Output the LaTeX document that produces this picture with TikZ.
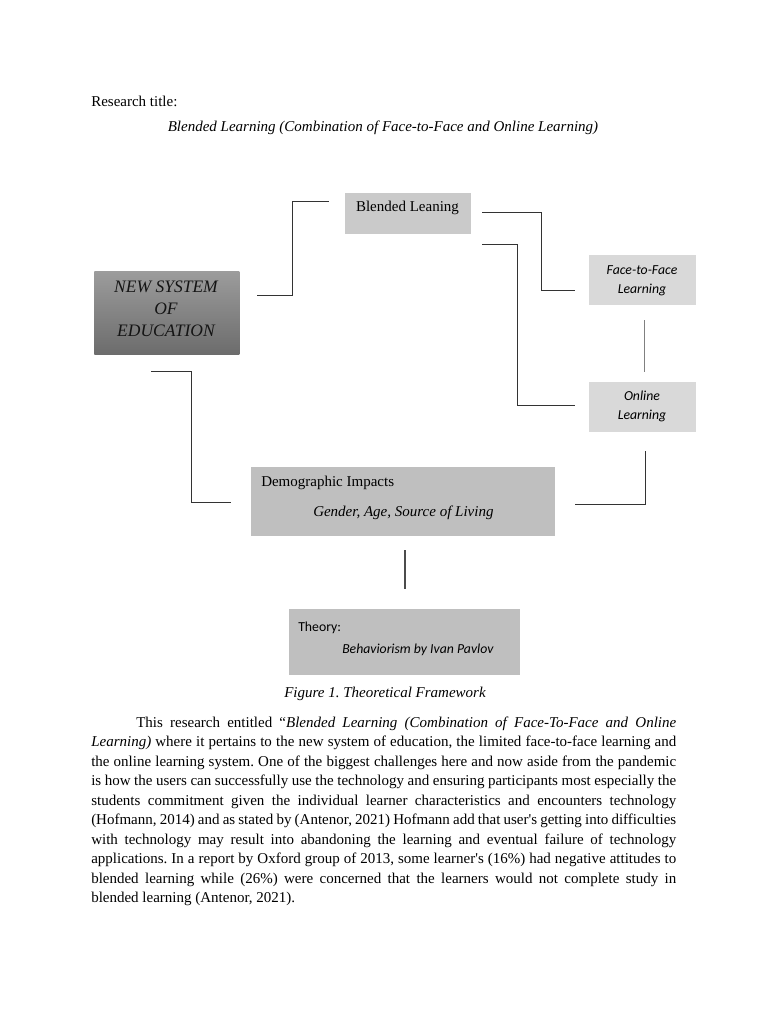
\documentclass[tikz,border=0pt,12pt]{standalone}
\usepackage{fontspec}
\setmainfont{Liberation Serif}
\newfontfamily\calibri{Carlito}
\usepackage{tikz}

\newlength\upx
\setlength\upx{0.8pt}

\definecolor{blendgray}{HTML}{CACACA}
\definecolor{sidegray}{HTML}{D9D9D9}
\definecolor{lowgray}{HTML}{BFBFBF}
\definecolor{nstop}{HTML}{9C9C9C}
\definecolor{nsbot}{HTML}{6C6C6C}
\definecolor{linkgray}{HTML}{333333}

\tikzset{
    box/.style={anchor=north west, inner sep=0pt, draw=none},
    link/.style={draw=linkgray, line width=0.8pt},
    sidefont/.style={font=\calibri\itshape\fontsize{11}{13}\selectfont},
}

\frenchspacing

\begin{document}
\begin{tikzpicture}[
    x=0.8pt, y=-0.8pt,
    inner sep=0pt,
    line cap=butt,
    line join=miter
]

% Pagina
\fill[white] (0,0) rectangle (768,1024);
\useasboundingbox (0,0) rectangle (768,1024);

% Intestazione
\node[anchor=base west] (rtitle) at (91,107) {Research title:};
\node[anchor=base] (title) at (383,132)
    {\itshape Blended Learning (Combination of Face-to-Face and Online Learning)};

% Riquadri
\node[box, fill=blendgray, minimum width=126\upx, minimum height=41\upx]
    (blended) at (345,193) {};
\node[box, top color=nstop, bottom color=nsbot, minimum width=145\upx, minimum height=83\upx]
    (newsys) at (94,271) {};
\node[box, fill=sidegray, minimum width=107\upx, minimum height=50\upx]
    (f2f) at (589,255) {};
\node[box, fill=sidegray, minimum width=107\upx, minimum height=50\upx]
    (online) at (589,382) {};
\node[box, fill=lowgray, minimum width=304\upx, minimum height=69\upx]
    (demog) at (251,467) {};
\node[box, fill=lowgray, minimum width=231\upx, minimum height=66\upx]
    (theory) at (289,609) {};

% Testi dei riquadri
\node[anchor=base] (blendedtxt) at (407.5,212) {Blended Leaning};

\node[anchor=base, font=\itshape\fontsize{14}{16}\selectfont, text=black!92]
    (nsa) at (166,292) {NEW SYSTEM};
\node[anchor=base, font=\itshape\fontsize{14}{16}\selectfont, text=black!92]
    (nsb) at (166,314) {OF};
\node[anchor=base, font=\itshape\fontsize{14}{16}\selectfont, text=black!92]
    (nsc) at (166,336) {EDUCATION};

\node[anchor=base, sidefont] (f2fa) at (642,274) {Face-to-Face};
\node[anchor=base, sidefont] (f2fb) at (642,293) {Learning};
\node[anchor=base, sidefont] (onla) at (642,400) {Online};
\node[anchor=base, sidefont] (onlb) at (642,419) {Learning};

\node[anchor=base west] (demoga) at (261,486) {Demographic Impacts};
\node[anchor=base west] (demogb) at (313,516) {\itshape Gender, Age, Source of Living};

\node[anchor=base west, font=\calibri\fontsize{11}{13}\selectfont] (theorya) at (298,631) {Theory:};
\node[anchor=base west, sidefont] (theoryb) at (342,653) {Behaviorism by Ivan Pavlov};

% Estremi dei collegamenti
\coordinate (ns-out)  at (257,295);
\coordinate (bl-in)   at (329,202);
\coordinate (bl-r1)   at (482,213);
\coordinate (ff-in)   at (575,290);
\coordinate (bl-r2)   at (482,244);
\coordinate (ol-in)   at (575,405);
\coordinate (ff-down) at (644,320);
\coordinate (ol-up)   at (644,372);
\coordinate (ns-down) at (151,371);
\coordinate (dm-in)   at (231,502);
\coordinate (dm-out)  at (575,504);
\coordinate (ol-down) at (645,451);
\coordinate (dm-down) at (405,550);
\coordinate (th-up)   at (405,589);

% Collegamenti
\draw[link] (ns-out) -- ++(35,0) |- (bl-in);
\draw[link] (bl-r1) -- ++(59,0) |- (ff-in);
\draw[link] (bl-r2) -- ++(35,0) |- (ol-in);
\draw[draw=gray, line width=0.6pt] (ff-down) -- (ol-up);
\draw[link] (ns-down) -- ++(40,0) |- (dm-in);
\draw[link] (dm-out) -| (ol-down);
\draw[link, line width=1.1pt, draw=black!70] (dm-down) -- (th-up);

% Didascalia
\node[anchor=base] (caption) at (385,697) {\itshape Figure 1. Theoretical Framework};

% Paragrafo
\node[anchor=north west, text width=468pt, align=justify,
      font=\fontsize{12}{15.6}\selectfont] (body) at (91,713.4)
{\hyphenpenalty=10000 \exhyphenpenalty=10000 \frenchspacing
\strut\hspace*{36pt}This research entitled “\textit{Blended Learning (Combination of Face-To-Face and Online\linebreak
Learning)} where it pertains to the new system of education, the limited face-to-face learning and\linebreak
the online learning system. One of the biggest challenges here and now aside from the pandemic\linebreak
is how the users can successfully use the technology and ensuring participants most especially the\linebreak
students commitment given the individual learner characteristics and encounters technology\linebreak
(Hofmann, 2014) and as stated by (Antenor, 2021) Hofmann add that user\textquotesingle s getting into difficulties\linebreak
with technology may result into abandoning the learning and eventual failure of technology\linebreak
applications. In a report by Oxford group of 2013, some learner\textquotesingle s (16\%) had negative attitudes to\linebreak
blended learning while (26\%) were concerned that the learners would not complete study in\linebreak
blended learning (Antenor, 2021).};

\end{tikzpicture}
\end{document}
